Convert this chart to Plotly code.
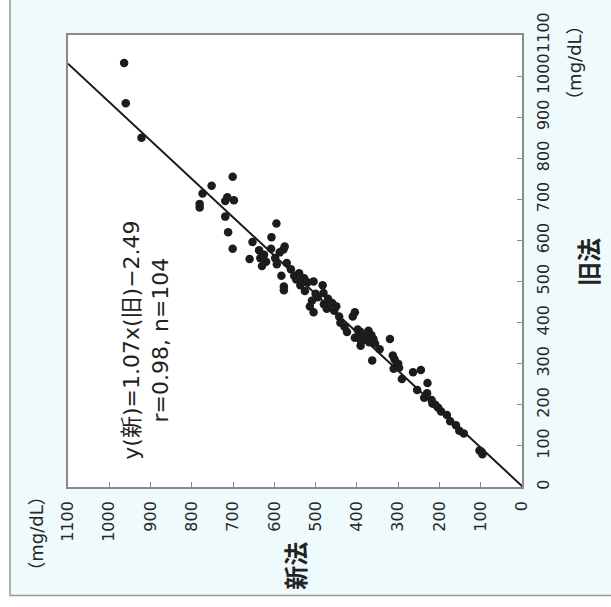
import plotly.graph_objects as go

# 旧法 (x of original chart) and 新法 (y of original chart), mg/dL
old_vals = [1032, 934, 850, 755, 733, 714, 689, 680, 696, 698, 658, 620, 580, 641, 608, 596,
            576, 555, 557, 538, 580, 578, 571, 557, 542, 514, 488, 479, 514, 505, 508, 491,
            477, 453, 439, 425, 491, 472, 462, 434, 429, 448, 415, 425, 415, 377, 363, 377,
            368, 344, 358, 360, 349, 308, 360, 320, 311, 297, 288, 263, 279, 285, 236, 253,
            217, 212, 203, 193, 184, 160, 137, 130, 89, 80,
            585, 548, 565, 530, 520, 498, 470, 458, 445, 440, 400, 390, 383, 372, 366, 352,
            335, 370, 380, 355, 300, 290, 228, 200, 175, 150, 86, 705, 545, 500]
new_vals = [964, 960, 922, 701, 752, 774, 781, 781, 719, 698, 719, 712, 701, 595, 607, 653,
            637, 660, 634, 630, 608, 578, 587, 598, 594, 583, 577, 577, 552, 547, 528, 537,
            526, 509, 514, 505, 483, 481, 495, 473, 455, 460, 443, 405, 410, 424, 405, 391,
            382, 391, 377, 360, 356, 363, 320, 313, 309, 304, 311, 291, 264, 245, 254, 229,
            237, 219, 217, 203, 196, 174, 152, 141, 103, 96,
            575, 620, 625, 560, 540, 520, 500, 470, 480, 450, 440, 430, 398, 395, 371, 370,
            345, 365, 372, 390, 300, 298, 230, 210, 182, 160, 98, 714, 570, 505]

slope = 1.07
intercept = -2.49
axis_max = 1100
tick_vals = list(range(0, 1101, 100))
tick_text = [str(v) for v in tick_vals]

line_old = [0, (axis_max - intercept) / slope]
line_new = [slope * v + intercept for v in line_old]

fig = go.Figure()
# The chart is shown rotated 90° counter-clockwise: 新法 runs right->left, 旧法 bottom->top
fig.add_trace(go.Scatter(x=line_new, y=line_old, mode="lines",
                         line=dict(color="#1a1a1a", width=2), hoverinfo="skip"))
fig.add_trace(go.Scatter(x=new_vals, y=old_vals, mode="markers",
                         marker=dict(color="#1c1c1c", size=8.5)))

axis_common = dict(range=[0, axis_max], tickvals=tick_vals, ticktext=tick_text,
                   showgrid=False, zeroline=False, showline=True, mirror=True,
                   linecolor="#8a8a8a", linewidth=1.5, ticks="inside", ticklen=5,
                   tickcolor="#8a8a8a", tickangle=-90, ticklabelstandoff=6,
                   tickfont=dict(family="DejaVu Sans", size=16, color="#262626"))

fig.update_layout(
    width=611, height=607, autosize=False,
    margin=dict(l=68, r=89, t=33, b=120),
    paper_bgcolor="#eefafc", plot_bgcolor="#ffffff",
    showlegend=False,
    xaxis=dict(axis_common, range=[axis_max, 0]),
    yaxis=dict(axis_common, side="right"),
)

def px_x(px):
    return (px - 68) / 454

def px_y(py):
    return (487 - py) / 454

annotations = [
    dict(text="y(新)=1.07x(旧)−2.49<br>r=0.98, n=104", x=px_x(146), y=px_y(340),
         font=dict(family="DejaVu Sans, Noto Sans CJK JP", size=22, color="#222222")),
    dict(text="<b>旧法</b>", x=px_x(588), y=px_y(261),
         font=dict(family="Noto Sans CJK JP", size=24, color="#222222")),
    dict(text="（mg/dL）", x=px_x(575), y=px_y(61),
         font=dict(family="DejaVu Sans, Noto Sans CJK JP", size=18, color="#262626")),
    dict(text="（mg/dL）", x=px_x(37), y=px_y(534),
         font=dict(family="DejaVu Sans, Noto Sans CJK JP", size=18, color="#262626")),
    dict(text="<b>新法</b>", x=px_x(295), y=px_y(566),
         font=dict(family="Noto Sans CJK JP", size=24, color="#222222")),
]
for a in annotations:
    fig.add_annotation(xref="paper", yref="paper", showarrow=False, textangle=-90,
                       xanchor="center", yanchor="middle", align="center", **a)

# outer frame of the figure panel
fig.add_shape(type="rect", xref="paper", yref="paper", x0=px_x(-5), x1=px_x(10),
              y0=px_y(615), y1=px_y(-5), fillcolor="#ffffff", line_width=0, layer="below")
fig.add_shape(type="rect", xref="paper", yref="paper", x0=px_x(-5), x1=px_x(620),
              y0=px_y(615), y1=px_y(596), fillcolor="#ffffff", line_width=0, layer="below")
fig.add_shape(type="rect", xref="paper", yref="paper", x0=px_x(10), x1=px_x(625),
              y0=px_y(596), y1=px_y(-10), line=dict(color="#9a9a9a", width=1.5), layer="below")

fig.write_html("out.html")
